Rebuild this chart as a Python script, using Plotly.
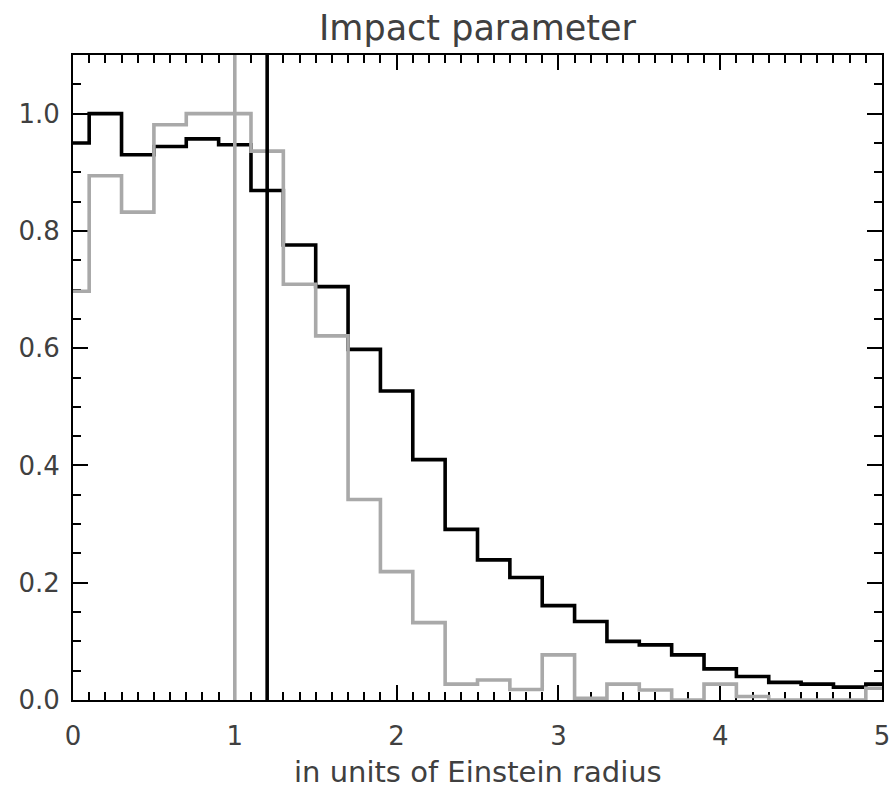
import plotly.graph_objects as go

# Bin centres (Einstein radius units), IDL psym=10 style histogram
bin_centers = [0.0, 0.2, 0.4, 0.6, 0.8, 1.0, 1.2, 1.4, 1.6, 1.8, 2.0, 2.2, 2.4,
               2.6, 2.8, 3.0, 3.2, 3.4, 3.6, 3.8, 4.0, 4.2, 4.4, 4.6, 4.8, 5.0]
black_hist = [0.95, 1.00, 0.93, 0.944, 0.957, 0.947, 0.869, 0.776, 0.705, 0.598,
              0.527, 0.41, 0.291, 0.239, 0.209, 0.161, 0.134, 0.100, 0.094, 0.077,
              0.053, 0.040, 0.030, 0.027, 0.022, 0.027]
gray_hist = [0.697, 0.894, 0.832, 0.981, 1.0, 1.0, 0.936, 0.709, 0.621, 0.342,
             0.219, 0.132, 0.027, 0.034, 0.018, 0.077, 0.003, 0.027, 0.017, 0.0,
             0.027, 0.006, 0.0, 0.0, 0.0, 0.02]
gray_marker_x = 1.0
black_marker_x = 1.2
x_range = [0, 5]
y_range = [0, 1.1]
x_ticks = [0, 1, 2, 3, 4, 5]
y_ticks = [0.0, 0.2, 0.4, 0.6, 0.8, 1.0]

BLACK = "#000000"
GRAY = "#a9a9a9"
TXT = "#404040"
FONT = "DejaVu Sans"

fig = go.Figure()
fig.add_trace(go.Scatter(x=bin_centers, y=black_hist, mode="lines",
                         line=dict(color=BLACK, width=3.6, shape="hvh"),
                         showlegend=False, hoverinfo="skip"))
fig.add_trace(go.Scatter(x=bin_centers, y=gray_hist, mode="lines",
                         line=dict(color=GRAY, width=3.6, shape="hvh"),
                         showlegend=False, hoverinfo="skip"))
fig.add_trace(go.Scatter(x=[gray_marker_x, gray_marker_x], y=y_range, mode="lines",
                         line=dict(color=GRAY, width=3.6),
                         showlegend=False, hoverinfo="skip"))
fig.add_trace(go.Scatter(x=[black_marker_x, black_marker_x], y=y_range, mode="lines",
                         line=dict(color=BLACK, width=3.6),
                         showlegend=False, hoverinfo="skip"))

axis_common = dict(
    showline=True, linecolor=BLACK, linewidth=2, mirror="allticks",
    ticks="inside", tickcolor=BLACK, tickwidth=2, ticklen=15,
    showgrid=False, zeroline=False, layer="below traces", automargin=False,
    tickfont=dict(family=FONT, size=26, color=TXT),
)

fig.update_xaxes(range=x_range, tickvals=x_ticks, ticktext=[str(v) for v in x_ticks],
                 ticklabelstandoff=12,
                 minor=dict(dtick=0.1, ticklen=8, tickwidth=2, tickcolor=BLACK,
                            ticks="inside", showgrid=False),
                 **axis_common)
fig.update_yaxes(range=y_range, tickvals=y_ticks, ticktext=[f"{v:.1f}" for v in y_ticks],
                 ticklabelstandoff=6,
                 minor=dict(dtick=0.05, ticklen=8, tickwidth=2, tickcolor=BLACK,
                            ticks="inside", showgrid=False),
                 **axis_common)

fig.add_annotation(text="in units of Einstein radius", xref="paper", yref="paper",
                   x=0.5, y=0, yanchor="middle", yshift=-72, showarrow=False,
                   font=dict(family=FONT, size=29, color=TXT))

fig.update_layout(
    width=891, height=788,
    margin=dict(l=73, r=9, t=55, b=88, autoexpand=False),
    paper_bgcolor="white", plot_bgcolor="white",
    title=dict(text="Impact parameter", x=0.5, xref="paper", xanchor="center",
               y=1 - 28 / 788, yref="container", yanchor="middle",
               font=dict(family=FONT, size=35, color=TXT)),
)

fig.write_html("out.html")
